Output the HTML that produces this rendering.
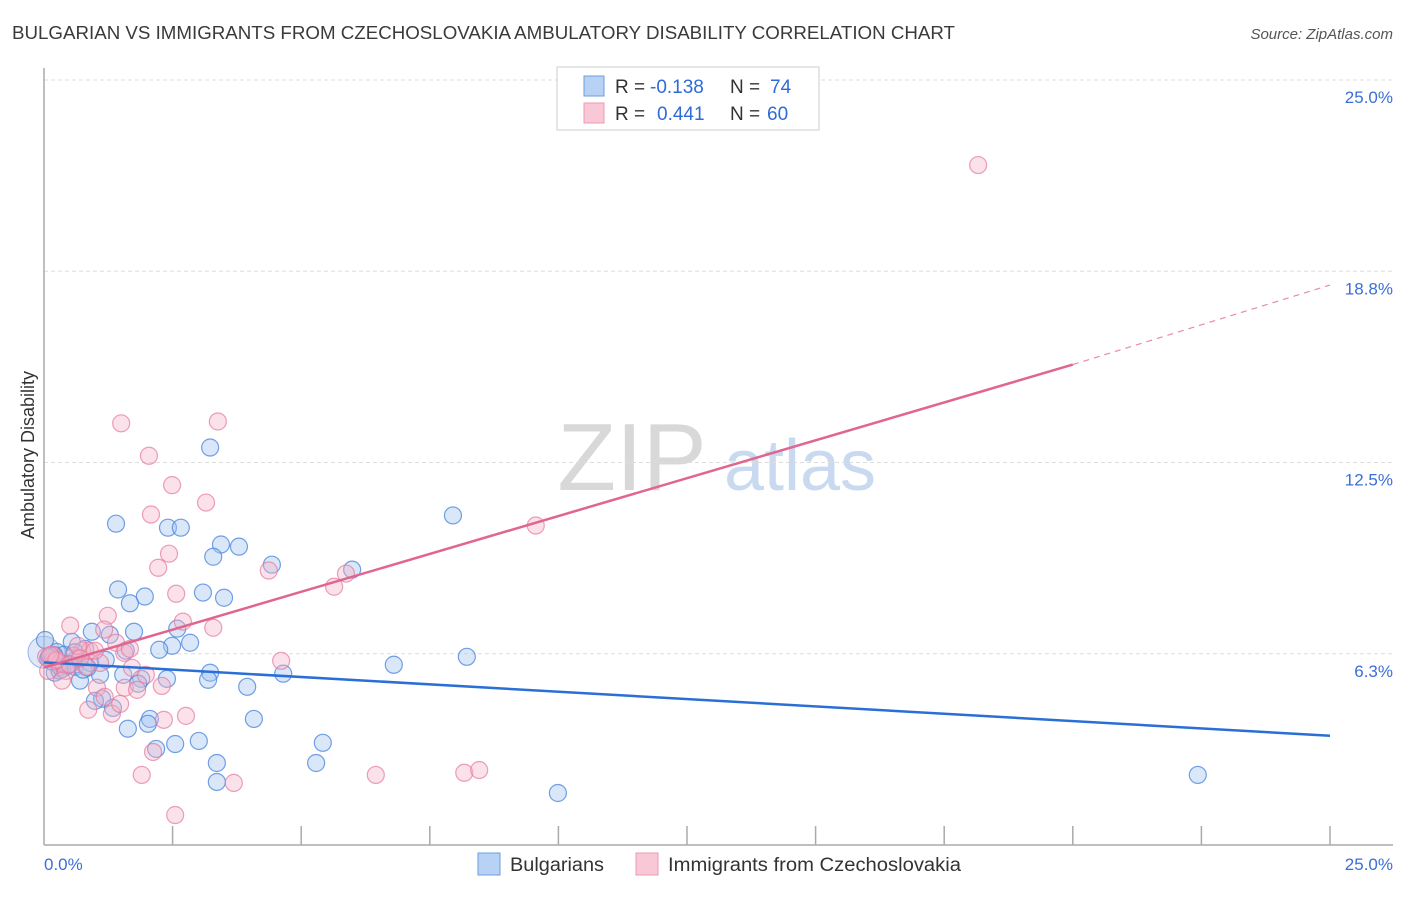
<!DOCTYPE html>
<html><head><meta charset="utf-8"><style>
body{margin:0;background:#fff;font-family:"Liberation Sans",sans-serif;}
svg text{font-family:"Liberation Sans",sans-serif;}
</style></head><body>
<svg id="chart" width="1406" height="892" xmlns="http://www.w3.org/2000/svg">
<text x="12" y="39" font-size="18" fill="#3a3a3a" textLength="943" lengthAdjust="spacingAndGlyphs">BULGARIAN VS IMMIGRANTS FROM CZECHOSLOVAKIA AMBULATORY DISABILITY CORRELATION CHART</text>
<text x="1393" y="39" font-size="15" fill="#555" font-style="italic" text-anchor="end">Source: ZipAtlas.com</text>
<g>
<text x="632" y="490" font-size="96" font-family="Liberation Serif" fill="#d8d8d8" text-anchor="middle">ZIP</text>
<text x="800" y="490" font-size="72" fill="#c9daf0" text-anchor="middle">atlas</text>
</g>
<g id="grid"></g>
<line x1="44" y1="68" x2="44" y2="845" stroke="#aaa" stroke-width="1.5"/>
<line x1="44" y1="845" x2="1393" y2="845" stroke="#aaa" stroke-width="1.5"/>
<text transform="translate(34,455) rotate(-90)" font-size="18" fill="#333" text-anchor="middle">Ambulatory Disability</text>
<text x="44" y="870" font-size="17" fill="#3a6fd8">0.0%</text>
<text x="1393" y="870" font-size="17" fill="#3a6fd8" text-anchor="end">25.0%</text>
<g id="pts"></g>
<g id="lines"></g>
<g>
<rect x="557" y="67" width="262" height="63" fill="#fff" stroke="#ccc"/>
<rect x="584" y="76" width="20" height="20" fill="#b8d2f5" stroke="#6b9de0"/>
<rect x="584" y="103" width="20" height="20" fill="#f8c8d6" stroke="#ec9ab2"/>
<text x="615" y="93" font-size="19" fill="#333">R =</text>
<text x="650" y="93" font-size="19" fill="#2f6bd6">-0.138</text>
<text x="730" y="93" font-size="19" fill="#333">N =</text>
<text x="770" y="93" font-size="19" fill="#2f6bd6">74</text>
<text x="615" y="120" font-size="19" fill="#333">R =</text>
<text x="657" y="120" font-size="19" fill="#2f6bd6">0.441</text>
<text x="730" y="120" font-size="19" fill="#333">N =</text>
<text x="767" y="120" font-size="19" fill="#2f6bd6">60</text>
</g>
<g>
<rect x="478" y="853" width="22" height="22" fill="#b8d2f5" stroke="#6b9de0"/>
<text x="510" y="871" font-size="19" fill="#333" textLength="94" lengthAdjust="spacingAndGlyphs">Bulgarians</text>
<rect x="636" y="853" width="22" height="22" fill="#f8c8d6" stroke="#ec9ab2"/>
<text x="668" y="871" font-size="19" fill="#333" textLength="293" lengthAdjust="spacingAndGlyphs">Immigrants from Czechoslovakia</text>
</g>
</svg>
<script>
const yTicks=[25,18.75,12.5,6.25];
const yTickLabels=["25.0%","18.8%","12.5%","6.3%"];
const xTicks=[2.5,5,7.5,10,12.5,15,17.5,20,22.5,25];
const blueX=[1.4,3.23,7.95,2.41,2.66,3.44,3.79,3.29,4.43,5.99,1.44,1.96,1.67,3.09,3.5,2.59,1.75,0.93,1.28,2.84,2.49,2.24,1.59,6.8,8.22,0.25,0.39,0.6,0.08,0.21,0.7,1.09,1.54,1.89,2.39,1.83,3.23,3.19,4.65,3.95,1.13,0.99,1.34,2.06,2.02,2.18,4.08,1.63,2.55,3.01,5.42,3.36,5.29,3.36,9.99,22.43,0.8,0.47,0.31,0.54,0.76,0.02,0.15,0.5,0.35,0.65,0.9,0.2,0.45,1.2,0.1,0.3,0.6,0.85];
const blueY=[10.5,12.99,10.77,10.37,10.37,9.82,9.75,9.42,9.16,9.0,8.35,8.12,7.9,8.25,8.08,7.07,6.97,6.97,6.87,6.61,6.51,6.38,6.35,5.89,6.15,6.31,6.22,5.82,6.09,5.63,5.37,5.56,5.56,5.43,5.43,5.27,5.63,5.4,5.6,5.17,4.78,4.71,4.48,4.12,3.96,3.14,4.12,3.8,3.3,3.4,3.34,2.68,2.68,2.06,1.7,2.29,6.41,5.92,5.82,6.64,5.73,6.7,6.0,5.9,5.75,6.1,5.95,6.2,5.85,6.05,6.15,5.7,6.3,5.8];
const pinkX=[18.16,3.38,1.5,2.04,2.49,3.15,2.08,9.56,2.43,2.22,4.37,5.87,5.64,2.57,1.24,0.51,1.17,2.7,3.29,1.4,0.74,1.56,4.61,1.71,1.98,2.29,1.03,1.57,0.86,1.32,2.76,2.33,2.12,1.9,3.69,6.45,8.17,8.46,2.55,0.04,0.16,0.31,0.43,0.23,0.58,0.89,1.09,0.66,1.67,0.08,0.35,1.18,1.48,1.81,0.99,0.82,0.25,0.5,0.7,0.12];
const pinkY=[22.22,13.84,13.78,12.72,11.76,11.19,10.8,10.44,9.52,9.06,8.97,8.87,8.44,8.21,7.49,7.17,7.04,7.3,7.1,6.61,6.35,6.28,6.02,5.79,5.56,5.2,5.14,5.14,4.42,4.29,4.22,4.09,3.04,2.29,2.03,2.29,2.36,2.45,0.98,6.15,6.22,5.95,5.69,6.02,6.18,6.35,5.95,6.51,6.41,5.69,5.37,4.84,4.61,5.07,6.35,5.82,6.05,5.9,6.1,6.2];
const blueTrend=[5.97,3.57];
const pinkTrend=[5.8,15.7,18.3];
const X0=44,X1=1330,YB=845,YT=80;
const sx=v=>X0+(X1-X0)*v/25;
const sy=v=>YB-(YB-YT)*v/25;
const NS="http://www.w3.org/2000/svg";
function mk(tag,attrs,parent){const e=document.createElementNS(NS,tag);for(const k in attrs)e.setAttribute(k,attrs[k]);parent.appendChild(e);return e;}
const grid=document.getElementById('grid');
yTicks.forEach((t,i)=>{
 const l=mk('line',{x1:44,x2:1393,y1:sy(t),y2:sy(t),stroke:'#ddd','stroke-dasharray':'4,3'},grid);
 
 
 const tx=mk('text',{x:1393,y:sy(t)+23,'font-size':17,fill:'#3a6fd8','text-anchor':'end'},grid);
 tx.textContent=yTickLabels[i];
 
 
});
xTicks.forEach(t=>{
 const l=mk('line',{x1:sx(t),x2:sx(t),y1:826,y2:845,stroke:'#aaa','stroke-width':1.5},grid);
 
 
});
const pts=document.getElementById('pts');
const big=mk('circle',{cx:sx(0),cy:sy(6.3),r:16,fill:'rgba(160,190,235,0.35)',stroke:'rgba(90,140,220,0.6)'},pts);


blueX.forEach((x,i)=>{
 const c=mk('circle',{cx:sx(x),cy:sy(blueY[i]),r:8.5,fill:'rgba(160,195,240,0.4)',stroke:'rgba(70,130,220,0.75)','stroke-width':1.2},pts);
 
 
});
pinkX.forEach((x,i)=>{
 const c=mk('circle',{cx:sx(x),cy:sy(pinkY[i]),r:8.5,fill:'rgba(245,180,200,0.4)',stroke:'rgba(230,120,155,0.7)','stroke-width':1.2},pts);
 
 
});
const lines=document.getElementById('lines');
const bl=mk('line',{x1:sx(0),y1:sy(blueTrend[0]),x2:sx(25),y2:sy(blueTrend[1]),stroke:'#2a6fd6','stroke-width':2.5},lines);


const pl=mk('line',{x1:sx(0),y1:sy(pinkTrend[0]),x2:sx(20),y2:sy(pinkTrend[1]),stroke:'#e0668f','stroke-width':2.5},lines);


const pd=mk('line',{x1:sx(20),y1:sy(pinkTrend[1]),x2:sx(25),y2:sy(pinkTrend[2]),stroke:'#e88aa8','stroke-width':1.2,'stroke-dasharray':'6,5'},lines);


</script>
</body></html>
